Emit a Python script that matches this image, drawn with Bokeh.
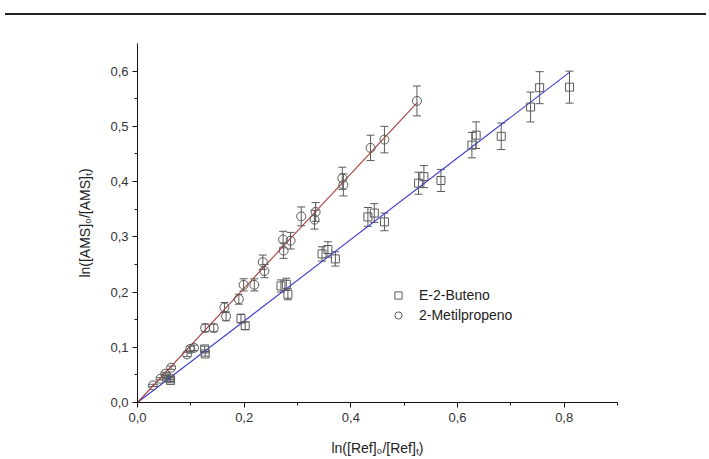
import numpy as np
from bokeh.plotting import figure
from bokeh.models import (ColumnDataSource, Whisker, TeeHead, Legend, LegendItem,
                          SingleIntervalTicker, CustomJSTickFormatter, Div, Range1d)
from bokeh.layouts import column
from bokeh.embed import file_html
from bokeh.resources import INLINE

# ---- data ----
met_x = [0.029, 0.043, 0.052, 0.063, 0.093, 0.099, 0.106, 0.127, 0.143, 0.163, 0.166,
         0.190, 0.199, 0.219, 0.235, 0.238, 0.273, 0.274, 0.287, 0.307, 0.334, 0.332,
         0.384, 0.386, 0.437, 0.463, 0.524]
met_y = [0.031, 0.043, 0.052, 0.063, 0.087, 0.097, 0.099, 0.135, 0.135, 0.172, 0.156,
         0.187, 0.213, 0.213, 0.254, 0.238, 0.295, 0.275, 0.293, 0.337, 0.345, 0.331,
         0.406, 0.394, 0.461, 0.476, 0.546]
met_err = [0.002, 0.002, 0.003, 0.003, 0.004, 0.005, 0.005, 0.007, 0.007, 0.009, 0.008,
           0.009, 0.011, 0.011, 0.013, 0.012, 0.015, 0.014, 0.015, 0.017, 0.017, 0.017,
           0.020, 0.020, 0.023, 0.024, 0.027]

but_x = [0.054, 0.061, 0.062, 0.126, 0.127, 0.194, 0.202, 0.269, 0.279, 0.282, 0.346,
         0.357, 0.371, 0.432, 0.444, 0.463, 0.527, 0.537, 0.569, 0.627, 0.635, 0.682,
         0.737, 0.754, 0.810]
but_y = [0.046, 0.043, 0.040, 0.097, 0.088, 0.152, 0.139, 0.211, 0.214, 0.196, 0.269,
         0.277, 0.260, 0.336, 0.343, 0.327, 0.397, 0.409, 0.402, 0.466, 0.484, 0.482,
         0.535, 0.570, 0.571]
but_err = [0.002, 0.002, 0.002, 0.005, 0.004, 0.008, 0.007, 0.011, 0.011, 0.010, 0.013,
           0.014, 0.013, 0.017, 0.017, 0.016, 0.020, 0.020, 0.020, 0.023, 0.024, 0.024,
           0.027, 0.029, 0.029]

met_slope = 1.035
but_slope = 0.738

labels = ["E-2-Buteno", "2-Metilpropeno"]
x_label = "ln([Ref]\u2080/[Ref]\u209c)"
y_label = "ln([AMS]\u2080/[AMS]\u209c)"

FONT = "Liberation Sans"

p = figure(frame_width=480, frame_height=359, min_border_left=137, min_border_top=23,
           min_border_right=72, min_border_bottom=50,
           x_range=Range1d(0, 0.9), y_range=Range1d(0, 0.65),
           output_backend="svg", toolbar_location=None)
p.outline_line_color = None
p.xgrid.visible = False
p.ygrid.visible = False
p.background_fill_color = "white"
p.border_fill_color = "white"

p.xaxis.ticker = SingleIntervalTicker(interval=0.2, num_minor_ticks=2)
p.yaxis.ticker = SingleIntervalTicker(interval=0.1, num_minor_ticks=2)
fmt = CustomJSTickFormatter(code="return tick.toFixed(1).replace('.', ',');")
for ax in (p.xaxis[0], p.yaxis[0]):
    ax.formatter = fmt
    ax.major_tick_in = 0
    ax.major_tick_out = 5
    ax.minor_tick_in = 0
    ax.minor_tick_out = 3
    ax.axis_line_color = "#111111"
    ax.major_tick_line_color = "#111111"
    ax.minor_tick_line_color = "#111111"
    ax.major_label_text_font = FONT
    ax.major_label_text_font_size = "13px"
    ax.major_label_text_color = "#333333"
    ax.axis_label_text_font = FONT
    ax.axis_label_text_font_size = "14px"
    ax.axis_label_text_font_style = "normal"
    ax.axis_label_text_color = "#222222"
p.xaxis.axis_label = x_label
p.yaxis.axis_label = y_label
p.xaxis.major_label_standoff = 5
p.xaxis.axis_label_standoff = 15
p.yaxis.major_label_standoff = 4
p.yaxis.axis_label_standoff = 14

# fit lines
bx = np.array([0.0, max(but_x)])
mx = np.array([0.0, max(met_x)])
p.line(bx, but_slope * bx, line_color="#3b3bd0", line_width=1.1)
p.line(mx, met_slope * mx, line_color="#a8403c", line_width=1.1)

grey = "#5a5a5a"
src_b = ColumnDataSource(dict(x=but_x, y=but_y,
                              lo=[a - b for a, b in zip(but_y, but_err)],
                              hi=[a + b for a, b in zip(but_y, but_err)]))
src_m = ColumnDataSource(dict(x=met_x, y=met_y,
                              lo=[a - b for a, b in zip(met_y, met_err)],
                              hi=[a + b for a, b in zip(met_y, met_err)]))
for src in (src_b, src_m):
    w = Whisker(source=src, base="x", lower="lo", upper="hi", line_color=grey, line_width=1,
                upper_head=TeeHead(size=8, line_color=grey, line_width=1),
                lower_head=TeeHead(size=8, line_color=grey, line_width=1))
    p.add_layout(w)

r_b = p.scatter("x", "y", source=src_b, marker="square", size=8, fill_color=None,
                line_color=grey, line_width=1)
r_m = p.scatter("x", "y", source=src_m, marker="circle", size=9, fill_color=None,
                line_color=grey, line_width=1)

legend = Legend(items=[LegendItem(label=labels[0], renderers=[r_b]),
                       LegendItem(label=labels[1], renderers=[r_m])],
                location=(252, 78), padding=0, margin=0, spacing=2,
                glyph_width=18, glyph_height=18, label_height=18, label_standoff=12,
                label_text_font=FONT, label_text_font_size="14px",
                label_text_color="#222222",
                border_line_color=None, background_fill_alpha=0)
p.add_layout(legend, "center")

rule = Div(text="", width=701, height=8,
           styles={"border-bottom": "2px solid #222222", "box-sizing": "content-box"})

layout = column(rule, p, spacing=0)
open("out.html", "w").write(file_html(layout, INLINE))
